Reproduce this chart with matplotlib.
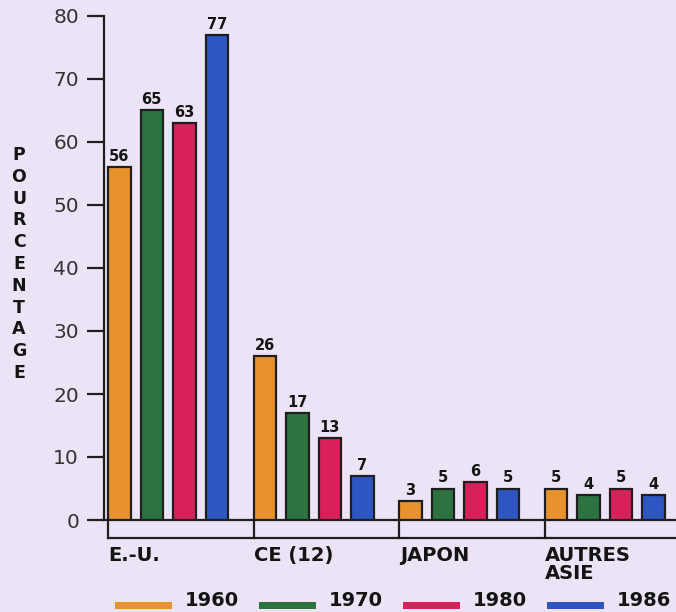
import matplotlib.pyplot as plt
from matplotlib.patches import Rectangle
import numpy as np

# donnees
groupes = ['E.-U.', 'CE (12)', 'JAPON', 'AUTRES\nASIE']
annees = ['1960', '1970', '1980', '1986']
valeurs = [
    [56, 26, 3, 5],   # 1960
    [65, 17, 5, 4],   # 1970
    [63, 13, 6, 5],   # 1980
    [77, 7, 5, 4],    # 1986
]
couleurs = ['#E8922E', '#2C7340', '#D8215A', '#2E56C2']
yticks = [0, 10, 20, 30, 40, 50, 60, 70, 80]

fond = '#ECE4F6'
noir = '#141414'
W, H = 676, 612
fig = plt.figure(figsize=(W / 100, H / 100), dpi=100, facecolor=fond)

# axes en pixels : axe vertical a x=104, 0 a y=520, 80 a y=16
ax_l, ax_r = 104, 676
ax_b, ax_t = 520, 16
ax = fig.add_axes([ax_l / W, 1 - ax_b / H, (ax_r - ax_l) / W, (ax_b - ax_t) / H])
ax.set_facecolor('none')

pas_groupe = 145.5
pas_barre = 32.5 / pas_groupe
larg = 22.5 / pas_groupe
x0 = np.arange(len(groupes))

for i, an in enumerate(annees):
    xs = x0 + i * pas_barre
    ax.bar(xs, valeurs[i], width=larg, align='edge', color=couleurs[i],
           edgecolor='#1e1e1e', linewidth=1.6, zorder=3)
    for x, v in zip(xs, valeurs[i]):
        ax.text(x + larg / 2, v + 0.5, str(v), ha='center', va='bottom',
                fontsize=10.5, fontweight='bold', family='DejaVu Sans', color=noir)

ax.set_xlim((ax_l - 108) / pas_groupe, (ax_r - 108) / pas_groupe)
ax.set_ylim(0, 80)
ax.set_yticks(yticks)
ax.set_xticks([])
ax.tick_params(axis='y', direction='out', length=12, width=1.6, color='#1e1e1e',
               labelsize=14.5, labelcolor='#333333', pad=6)
for s in ['top', 'right']:
    ax.spines[s].set_visible(False)
for s in ['left', 'bottom']:
    ax.spines[s].set_linewidth(1.6)
    ax.spines[s].set_color('#1e1e1e')

# crochet sous l'axe
y_cr = -18 / 6.3
ax.plot([0, 5], [y_cr, y_cr], color='#1e1e1e', lw=1.6, clip_on=False)
for g, nom in zip(x0, groupes):
    ax.plot([g, g], [0, y_cr], color='#1e1e1e', lw=1.6, clip_on=False)
    ax.text(g + 0.005, y_cr - 1.3, nom, ha='left', va='top', fontsize=14,
            fontweight='bold', family='DejaVu Sans', color=noir,
            linespacing=0.95)

# titre vertical "POURCENTAGE"
lettres = 'POURCENTAGE'
for k, c in enumerate(lettres):
    fig.text(19 / W, 1 - (155 + k * 21.8) / H, c, ha='center', va='center',
             fontsize=12.5, fontweight='bold', family='DejaVu Sans', color=noir)

# legende en bas
for i, an in enumerate(annees):
    xl = 115 + i * 144
    fig.add_artist(Rectangle((xl / W, 1 - 609 / H), 57 / W, 7 / H,
                             transform=fig.transFigure, color=couleurs[i], lw=0))
    fig.text((xl + 70) / W, 1 - 601 / H, an, ha='left', va='center',
             fontsize=14, fontweight='bold', family='DejaVu Sans', color=noir)

fig.savefig('out.png', dpi=100, facecolor=fond)
